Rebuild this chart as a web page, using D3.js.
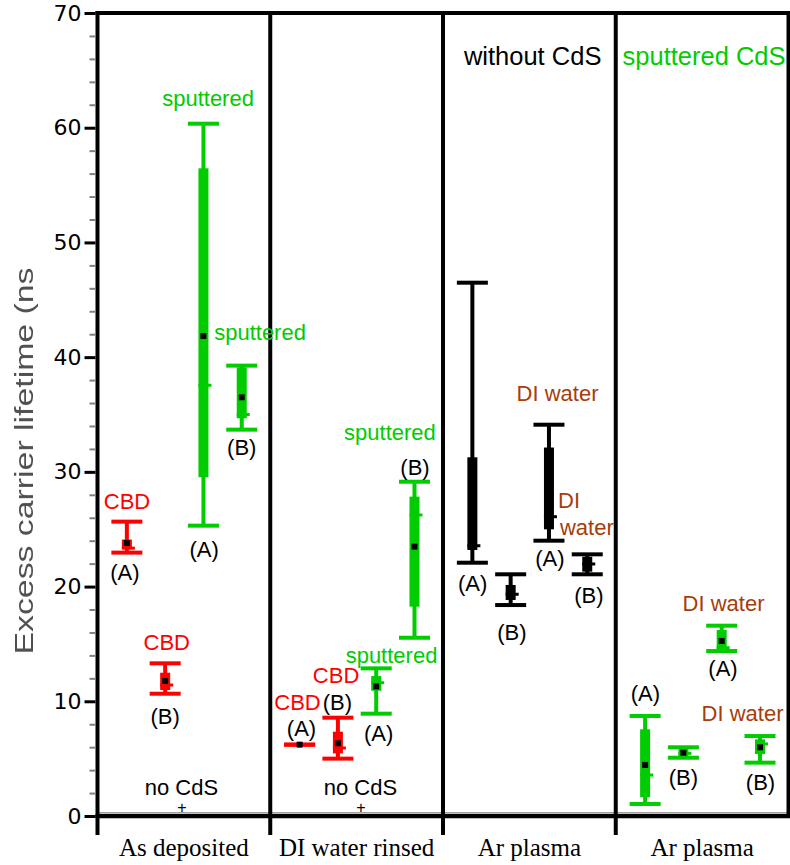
<!DOCTYPE html>
<html>
<head>
<meta charset="utf-8">
<script src="https://cdn.jsdelivr.net/npm/d3@7"></script>
<style>
  body { margin: 0; background: #fff; }
  svg { display: block; }
</style>
</head>
<body>
<svg id="chart" width="790" height="865"></svg>
<script>
// Treatment groups along the x axis
const groupLabels = ["As deposited", "DI water rinsed", "Ar plasma", "Ar plasma"];
const yTicks = [0, 10, 20, 30, 40, 50, 60, 70];

// One entry per box: group index, slot within the group, sample type
const boxGroup = [0, 0, 0, 0, 1, 1, 1, 1, 2, 2, 2, 2, 3, 3, 3, 3];
const boxSlot  = [0, 1, 2, 3, 0, 1, 2, 3, 0, 1, 2, 3, 0, 1, 2, 3];
const boxKind  = ["cbd", "cbd", "sput", "sput", "cbd", "cbd", "sput", "sput",
                  "none", "none", "none", "none", "sput", "sput", "sput", "sput"];

// Lifetime statistics (ns)
const boxMin    = [22.96, 10.66, 25.31, 33.68, 6.22, 5.00,  8.92, 15.54, 22.08, 18.39, 24.00, 21.07, 1.05, 5.08, 14.38, 4.65];
const boxQ1     = [23.30, 10.98, 29.53, 34.67, 6.22, 5.46, 10.92, 18.25, 23.19, 18.83, 24.99, 21.30, 1.63, 5.17, 14.56, 5.40];
const boxMedian = [23.35, 11.42, 37.55, 35.00, 6.22, 5.93, 11.62, 26.24, 23.56, 19.33, 26.09, 21.97, 3.57, 5.46, 14.67, 6.28];
const boxQ3     = [24.10, 12.49, 56.46, 39.10, 6.22, 7.35, 12.20, 27.84, 31.27, 20.14, 32.12, 22.60, 7.56, 5.90, 16.21, 6.68];
const boxMax    = [25.66, 13.31, 60.35, 39.26, 6.22, 8.57, 12.87, 29.14, 46.49, 21.07, 34.11, 22.81, 8.72, 5.99, 16.59, 6.97];
const boxMean   = [23.80, 11.77, 41.84, 36.50, 6.22, 6.34, 11.30, 23.48, 23.60, 19.40, 26.00, 21.90, 4.45, 5.52, 15.26, 5.99];

// Annotations anchored in data space: gx = position in group units, v = lifetime value
const notes = [
  { t: "sputtered", k: "sput", gx: 0.640, v: 62.6 },
  { t: "sputtered", k: "sput", gx: 0.941, v: 42.15 },
  { t: "(B)", k: "text", gx: 0.835, v: 32.17 },
  { t: "(A)", k: "text", gx: 0.617, v: 23.28 },
  { t: "CBD", k: "cbd", gx: 0.171, v: 27.4 },
  { t: "(A)", k: "text", gx: 0.159, v: 21.27 },
  { t: "CBD", k: "cbd", gx: 0.401, v: 15.12 },
  { t: "(B)", k: "text", gx: 0.391, v: 8.72 },
  { t: "no CdS", k: "text", gx: 0.486, v: 2.53 },
  { t: "+", k: "plus", gx: 0.489, v: 0.78 },

  { t: "sputtered", k: "sput", gx: 1.693, v: 33.48 },
  { t: "(B)", k: "text", gx: 1.838, v: 30.42 },
  { t: "sputtered", k: "sput", gx: 1.702, v: 14.04 },
  { t: "CBD", k: "cbd", gx: 1.381, v: 12.29 },
  { t: "CBD", k: "cbd", gx: 1.158, v: 9.94 },
  { t: "(B)", k: "text", gx: 1.389, v: 9.94 },
  { t: "(A)", k: "text", gx: 1.181, v: 7.67 },
  { t: "(A)", k: "text", gx: 1.627, v: 7.24 },
  { t: "no CdS", k: "text", gx: 1.522, v: 2.53 },
  { t: "+", k: "plus", gx: 1.525, v: 0.78 },

  { t: "without CdS", k: "title", gx: 2.519, v: 66.27 },
  { t: "DI water", k: "water", gx: 2.663, v: 36.87 },
  { t: "DI", k: "water", gx: 2.666, v: 27.55, start: true },
  { t: "water", k: "water", gx: 2.677, v: 25.19, start: true },
  { t: "(A)", k: "text", gx: 2.171, v: 20.31 },
  { t: "(B)", k: "text", gx: 2.399, v: 16.04 },
  { t: "(A)", k: "text", gx: 2.619, v: 22.49 },
  { t: "(B)", k: "text", gx: 2.845, v: 19.27 },

  { t: "sputtered CdS", k: "sputTitle", gx: 3.511, v: 66.25 },
  { t: "DI water", k: "water", gx: 3.624, v: 18.57 },
  { t: "(A)", k: "text", gx: 3.621, v: 12.9 },
  { t: "(A)", k: "text", gx: 3.172, v: 10.72 },
  { t: "DI water", k: "water", gx: 3.734, v: 8.98 },
  { t: "(B)", k: "text", gx: 3.392, v: 3.4 },
  { t: "(B)", k: "text", gx: 3.838, v: 2.96 }
];

const colors = {
  cbd: "#ff0000", sput: "#00cc00", none: "#000000",
  water: "#a83c0a", text: "#000000", plus: "#000000",
  title: "#000000", sputTitle: "#00cc00"
};

const sans = "'Liberation Sans', Arial, Helvetica, sans-serif";
const svg = d3.select("#chart");

const y = d3.scaleLinear().domain([0, 70]).range([816, 13]);
const x = d3.scaleLinear().domain([0, 4]).range([97.5, 788.5]);
const slot = d3.scalePoint().domain([0, 1, 2, 3]).range([0.17, 0.835]);

// blur for the axis title
const defs = svg.append("defs");
defs.append("filter").attr("id", "soft")
  .append("feGaussianBlur").attr("stdDeviation", 0.6);

// ---- frame ----
const frame = svg.append("g").attr("stroke", "#000");
frame.append("line").attr("x1", x(0)).attr("x2", 790).attr("y1", y(0) - 3.5).attr("y2", y(0) - 3.5)
  .attr("stroke", "#a0a0a0").attr("stroke-width", 1);
frame.append("line").attr("x1", x(0) - 2).attr("x2", 790).attr("y1", y(0)).attr("y2", y(0))
  .attr("stroke-width", 4.5);
frame.append("line").attr("x1", x(0) - 2).attr("x2", 790).attr("y1", y(70)).attr("y2", y(70))
  .attr("stroke-width", 4);
[0, 1, 2, 3].forEach(g => {
  frame.append("line").attr("x1", x(g)).attr("x2", x(g))
    .attr("y1", y(70) - 2).attr("y2", 835).attr("stroke-width", 4);
});
frame.append("line").attr("x1", x(4)).attr("x2", x(4))
  .attr("y1", y(70) - 2).attr("y2", y(0)).attr("stroke-width", 4);

// ---- y axis ticks ----
const minorTicks = d3.range(0, 71, 2).filter(v => v % 10 !== 0);
const minorAxis = svg.append("g").attr("transform", `translate(${x(0) - 2},0)`)
  .call(d3.axisLeft(y).tickValues(minorTicks).tickSize(6).tickFormat(""));
minorAxis.select(".domain").remove();
minorAxis.selectAll(".tick line").attr("stroke", "#808080").attr("stroke-width", 2);

const majorAxis = svg.append("g").attr("transform", `translate(${x(0) - 2},0)`)
  .call(d3.axisLeft(y).tickValues(yTicks).tickSize(11).tickPadding(3));
majorAxis.select(".domain").remove();
majorAxis.selectAll(".tick line").attr("stroke", "#000").attr("stroke-width", 3);
majorAxis.selectAll(".tick text")
  .attr("font-family", "'DejaVu Sans', sans-serif")
  .attr("font-size", 22).attr("fill", "#000");

// y-axis title
svg.append("text")
  .attr("transform", `translate(33,${(y(47.8) + y(14.1)) / 2}) rotate(-90)`)
  .attr("text-anchor", "middle")
  .attr("font-family", sans).attr("font-size", 26)
  .attr("textLength", 387).attr("lengthAdjust", "spacingAndGlyphs")
  .attr("fill", "#505050").attr("filter", "url(#soft)")
  .text("Excess carrier lifetime (ns");

// group labels
svg.append("g").selectAll("text").data(groupLabels).join("text")
  .attr("x", (d, i) => x(i + 0.5)).attr("y", 856)
  .attr("text-anchor", "middle")
  .attr("font-family", "'Liberation Serif', 'Times New Roman', serif")
  .attr("font-size", 25).attr("fill", "#000")
  .text(d => d);

// ---- box plots ----
const boxes = boxGroup.map((g, i) => ({
  cx: x(g + slot(boxSlot[i])), kind: boxKind[i],
  min: boxMin[i], q1: boxQ1[i], med: boxMedian[i], q3: boxQ3[i], max: boxMax[i], mean: boxMean[i]
}));

const capHalf = 15.5, boxHalf = 5;
const bg = svg.append("g").selectAll("g").data(boxes).join("g");
bg.append("line").attr("x1", d => d.cx).attr("x2", d => d.cx)
  .attr("y1", d => y(d.max)).attr("y2", d => y(d.min))
  .attr("stroke", d => colors[d.kind]).attr("stroke-width", 4);
["min", "max"].forEach(key => {
  bg.append("line").attr("x1", d => d.cx - capHalf).attr("x2", d => d.cx + capHalf)
    .attr("y1", d => y(d[key])).attr("y2", d => y(d[key]))
    .attr("stroke", d => colors[d.kind]).attr("stroke-width", 4);
});
bg.append("rect").attr("x", d => d.cx - boxHalf).attr("width", boxHalf * 2)
  .attr("y", d => y(d.q3)).attr("height", d => Math.max(0, y(d.q1) - y(d.q3)))
  .attr("fill", d => colors[d.kind]);
bg.append("line").attr("x1", d => d.cx - boxHalf).attr("x2", d => d.cx + boxHalf + 3)
  .attr("y1", d => y(d.med)).attr("y2", d => y(d.med))
  .attr("stroke", d => colors[d.kind]).attr("stroke-width", 3);
bg.append("rect").attr("x", d => d.cx - 3).attr("y", d => y(d.mean) - 3)
  .attr("width", 6).attr("height", 6).attr("fill", "#000");

// ---- annotations ----
const sizeOf = k => (k === "title" || k === "sputTitle") ? 25.5 : (k === "plus" ? 16 : 22);
svg.append("g").selectAll("text").data(notes).join("text")
  .attr("x", d => x(d.gx)).attr("y", d => y(d.v)).attr("dy", "0.35em")
  .attr("text-anchor", d => d.start ? "start" : "middle")
  .attr("font-family", sans)
  .attr("font-size", d => sizeOf(d.k))
  .attr("fill", d => colors[d.k])
  .text(d => d.t);
</script>
</body>
</html>
